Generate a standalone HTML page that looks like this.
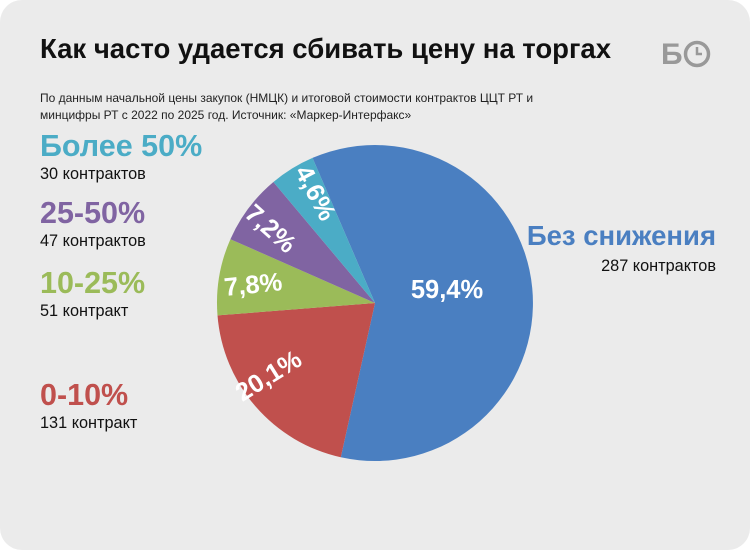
<!DOCTYPE html>
<html><head><meta charset="utf-8"><style>
body{margin:0;background:#fff;width:750px;height:550px;overflow:hidden;font-family:"Liberation Sans","DejaVu Sans",sans-serif}
.card{position:absolute;left:0;top:0;width:750px;height:550px;background:#ebebeb;border-radius:22px}
.t{position:absolute;white-space:nowrap}
.h{font-weight:bold;font-size:30.5px}
.s{font-size:16.3px;color:#111}
</style></head><body><div class="card">
<div class="t" style="left:40px;top:33px;font-size:27.5px;font-weight:bold;color:#111">Как часто удается сбивать цену на торгах</div>
<div class="t" style="left:40px;top:90px;font-size:12px;line-height:17px;color:#222">По данным начальной цены закупок (НМЦК) и итоговой стоимости контрактов ЦЦТ РТ и<br>минцифры РТ с 2022 по 2025 год. Источник: «Маркер-Интерфакс»</div>
<div class="t" style="left:661px;top:38px;font-size:30px;font-weight:bold;color:#999">Б</div>
<svg style="position:absolute;left:683px;top:40px" width="28" height="28"><circle cx="14" cy="14" r="11.5" fill="none" stroke="#999" stroke-width="3.5"/><path d="M14 7 V14 H19" fill="none" stroke="#999" stroke-width="2.5"/></svg>
<div class="t h" style="left:40px;top:129px;color:#4bacc6">Более 50%</div>
<div class="t s" style="left:40px;top:165px">30 контрактов</div>
<div class="t h" style="left:40px;top:196px;color:#8064a2">25-50%</div>
<div class="t s" style="left:40px;top:232px">47 контрактов</div>
<div class="t h" style="left:40px;top:266px;color:#9bbb59">10-25%</div>
<div class="t s" style="left:40px;top:302px">51 контракт</div>
<div class="t h" style="left:40px;top:378px;color:#c0504d">0-10%</div>
<div class="t s" style="left:40px;top:414px">131 контракт</div>
<div class="t" style="right:34px;top:220px;font-size:27.5px;font-weight:bold;color:#4a7fc1">Без снижения</div>
<div class="t s" style="right:34px;top:257px">287 контрактов</div>
<svg style="position:absolute;left:0;top:0" width="750" height="550">
<path d="M375 303 L312.5 157.9 A158 158 0 1 1 340.8 457.3 Z" fill="#4a7fc1"/>
<path d="M375 303 L340.8 457.3 A158 158 0 0 1 217.5 315.4 Z" fill="#c0504d"/>
<path d="M375 303 L217.5 315.4 A158 158 0 0 1 230.4 239.2 Z" fill="#9bbb59"/>
<path d="M375 303 L230.4 239.2 A158 158 0 0 1 273.4 182 Z" fill="#8064a2"/>
<path d="M375 303 L273.4 182 A158 158 0 0 1 312.5 157.9 Z" fill="#4bacc6"/>
<g fill="#fff" font-weight="bold" font-size="25.5" text-anchor="middle" font-family="Liberation Sans, sans-serif">
<text x="447" y="298">59,4%</text>
<text transform="translate(273,383) rotate(-32)">20,1%</text>
<text transform="translate(254,293) rotate(-6)">7,8%</text>
<text transform="translate(265,235) rotate(42)">7,2%</text>
<text transform="translate(308,197) rotate(62)">4,6%</text>
</g></svg>
</div></body></html>
